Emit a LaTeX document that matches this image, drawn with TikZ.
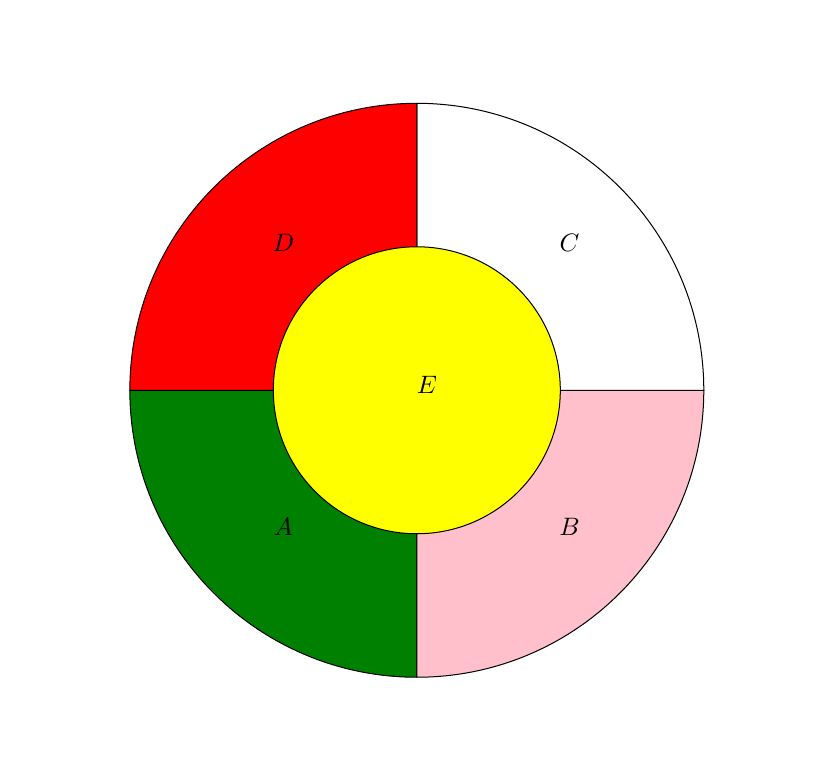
\documentclass[tikz,border=0pt]{standalone}
\usepackage{tikz}
\definecolor{ringgreen}{RGB}{0,128,0}
\definecolor{ringpink}{RGB}{255,192,203}
\definecolor{ringred}{RGB}{255,0,0}
\definecolor{discyellow}{RGB}{255,255,0}
\begin{document}
\begin{tikzpicture}
\useasboundingbox (-5.81,-5.48) rectangle (5.55,5.44);
    \coordinate (o) at (0,0);
    % ---- outer ring, one quarter per region
    \foreach \a/\c in {180/ringgreen,270/ringpink,0/white,90/ringred}
        \filldraw[fill=\c, draw=black] (o) -- (\a:4) arc (\a:\a+90:4) -- cycle;
    % ---- inner disc
    \filldraw[fill=discyellow, draw=black] (o) circle (2);
    % ---- labels
    \node (lA) at (-1.86,-1.91) {$A$};
    \node (lB) at (2.13,-1.91) {$B$};
    \node (lC) at (2.13,2.06) {$C$};
    \node (lD) at (-1.86,2.06) {$D$};
    \node (lE) at (0.14,0.08) {$E$};
\end{tikzpicture}
\end{document}
